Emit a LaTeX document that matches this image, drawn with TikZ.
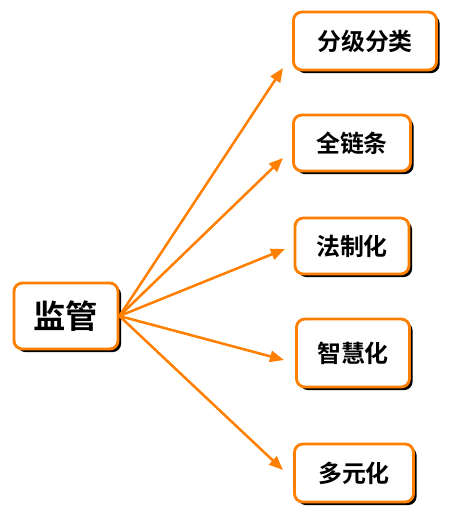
\documentclass[tikz,border=0pt]{standalone}
\usepackage{fontspec}
\newfontfamily\cjk{Noto Sans CJK SC}[BoldFont={Noto Sans CJK SC Bold}]
\usetikzlibrary{arrows.meta,shadows}
\definecolor{lineorange}{RGB}{255,128,0}

\begin{document}
\begin{tikzpicture}[x=0.025cm,y=-0.025cm,
	box/.style={draw=lineorange, line width=2pt, fill=white, rounded corners=6pt,
		font=\cjk\bfseries\fontsize{17}{17}\selectfont, inner sep=0pt,
		drop shadow={shadow xshift=2.2pt, shadow yshift=-2.2pt, fill=black, opacity=1}},
	link/.style={draw=lineorange, line width=1.8pt, -{Triangle[length=10pt,width=8pt]}}]
	
	\useasboundingbox (0,0) rectangle (450,522);
	
	% boxes
	\node[box, minimum width=2.6cm, minimum height=1.65cm, font=\cjk\bfseries\fontsize{23}{23}\selectfont] (jg) at (66,316) {监管};
	\node[box, minimum width=3.575cm, minimum height=1.45cm] (fjfl) at (365,41) {分级分类};
	\node[box, minimum width=2.925cm, minimum height=1.4cm] (qlt) at (352,143) {全链条};
	\node[box, minimum width=2.85cm, minimum height=1.4cm] (fzh) at (352,246) {法制化};
	\node[box, minimum width=2.825cm, minimum height=1.7cm] (zhh) at (353,353) {智慧化};
	\node[box, minimum width=2.975cm, minimum height=1.45cm] (dyh) at (354,473) {多元化};
	
	% arrow tips
	\coordinate (t1) at (283,68);
	\coordinate (t2) at (283,158);
	\coordinate (t3) at (285,249);
	\coordinate (t4) at (284,360);
	\coordinate (t5) at (283,470);
	
	\foreach \t in {t1,t2,t3,t4,t5}
		\draw[link] (jg.east) -- (\t);
	
\end{tikzpicture}
\end{document}
